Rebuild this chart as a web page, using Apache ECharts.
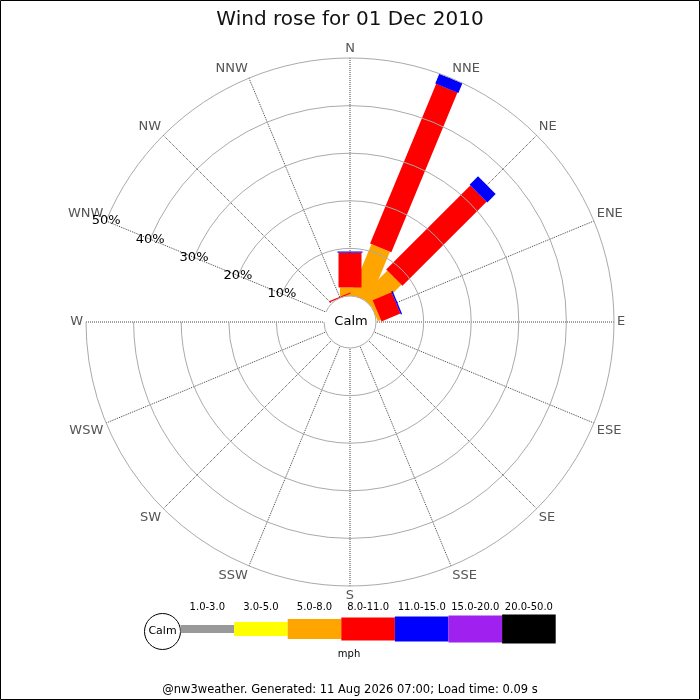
<!DOCTYPE html>
<html>
<head>
<meta charset="utf-8">
<script src="https://cdn.jsdelivr.net/npm/echarts@6/dist/echarts.min.js"></script>
<style>
  html, body { margin: 0; padding: 0; background: #fff; }
  #chart { width: 700px; height: 700px; }
</style>
</head>
<body>
<div id="chart"></div>
<script>
// compass order, clockwise from N
const dirs = ["N", "NNE", "NE", "ENE", "E", "ESE", "SE", "SSE", "S", "SSW", "SW", "WSW", "W", "WNW", "NW", "NNW"];
const bins = ["1.0-3.0", "3.0-5.0", "5.0-8.0", "8.0-11.0", "11.0-15.0", "15.0-20.0", "20.0-50.0"];
const binColors = ["#999999", "#ffff00", "#ffa500", "#ff0000", "#0000ff", "#a020f0", "#000000"];
const binWidths = [8, 14, 20, 23, 25, 27, 29];
const radiusTicks = [0, 10, 20, 30, 40, 50];

// percent of time per direction for each speed bin
const spd1_3   = [0, 0, 0, 0, 0, 0, 0, 0, 0, 0, 0, 0, 0, 0, 0, 0];
const spd3_5   = [0, 0, 0, 0, 0, 0, 0, 0, 0, 0, 0, 0, 0, 0, 0, 0];
const spd5_8   = [1.8, 11.4, 7.7, 0.7, 0, 0, 0, 0, 0, 0, 0, 0, 0, 0, 0, 0];
const spd8_11  = [7.3, 36.3, 25.0, 4.3, 0, 0, 0, 0, 0, 0, 0, 0, 0, 0, 0, 0.25];
const spd11_15 = [0.25, 2.2, 2.5, 0.3, 0, 0, 0, 0, 0, 0, 0, 0, 0, 0, 0, 0];
const spd15_20 = [0, 0, 0, 0, 0, 0, 0, 0, 0, 0, 0, 0, 0, 0, 0, 0];
const spd20_50 = [0, 0, 0, 0, 0, 0, 0, 0, 0, 0, 0, 0, 0, 0, 0, 0];
const binValues = [spd1_3, spd3_5, spd5_8, spd8_11, spd11_15, spd15_20, spd20_50];

const FONT = "DejaVu Sans";

// axis starts at WNW so the % labels sit on that spoke
const axisDirs = dirs.slice(13).concat(dirs.slice(0, 13));
const posOf = i => (i + 3) % 16;

function barRenderer(width, color) {
  return function (params, api) {
    const idx = api.value(0), lo = api.value(1), hi = api.value(2);
    if (!(hi > lo)) return;
    const a = api.coord([lo, idx]), b = api.coord([hi, idx]);
    const c = api.coord([0, idx]), d = api.coord([50, idx]);
    let ux = d[0] - c[0], uy = d[1] - c[1];
    const len = Math.hypot(ux, uy);
    ux /= len; uy /= len;
    const nx = -uy * width / 2, ny = ux * width / 2;
    return {
      type: "polygon",
      shape: { points: [[a[0] + nx, a[1] + ny], [b[0] + nx, b[1] + ny], [b[0] - nx, b[1] - ny], [a[0] - nx, a[1] - ny]] },
      style: { fill: color }
    };
  };
}

const cum = dirs.map(() => 0);
const series = bins.map((name, k) => {
  const data = dirs.map((d, i) => {
    const lo = cum[i];
    cum[i] += binValues[k][i];
    return [posOf(i), lo, cum[i]];
  });
  return {
    name, type: "custom", coordinateSystem: "polar",
    encode: { angle: 0, radius: 2 },
    renderItem: barRenderer(binWidths[k], binColors[k]),
    data, silent: true
  };
});

// legend strip
const legX = 180.5, legStep = 53.6, legY = 629;
const graphic = [
  { type: "rect", shape: { x: 0.5, y: 0.5, width: 699, height: 699 }, style: { fill: "none", stroke: "#000", lineWidth: 1 }, silent: true },
  { type: "text", x: 351, y: 322, style: { text: "Calm", font: "13px " + FONT, fill: "#000", align: "center", verticalAlign: "middle" } },
  { type: "circle", shape: { cx: 162.5, cy: 631.5, r: 18 }, style: { fill: "#fff", stroke: "#000", lineWidth: 1 } },
  { type: "text", x: 162.5, y: 631.5, style: { text: "Calm", font: "11px " + FONT, fill: "#000", align: "center", verticalAlign: "middle" } },
  { type: "text", x: 349, y: 654, style: { text: "mph", font: "10px " + FONT, fill: "#000", align: "center", verticalAlign: "middle" } },
  { type: "text", x: 350, y: 690, style: { text: "@nw3weather. Generated: 11 Aug 2026 07:00; Load time: 0.09 s", font: "11.5px " + FONT, fill: "#000", align: "center", verticalAlign: "middle" } }
];
bins.forEach((b, k) => {
  graphic.push({ type: "rect", shape: { x: legX + k * legStep, y: legY - binWidths[k] / 2, width: legStep, height: binWidths[k] }, style: { fill: binColors[k] } });
  graphic.push({ type: "text", x: legX + (k + 0.5) * legStep, y: 607, style: { text: b, font: "10px " + FONT, fill: "#000", align: "center", verticalAlign: "middle" } });
});

const chart = echarts.init(document.getElementById("chart"));
chart.setOption({
  animation: false,
  backgroundColor: "#fff",
  title: {
    text: "Wind rose for 01 Dec 2010", left: "center", top: 5,
    textStyle: { fontFamily: FONT, fontSize: 20, fontWeight: "normal", color: "#111" }
  },
  polar: { center: [350, 322], radius: [26, 264] },
  angleAxis: {
    type: "category", data: axisDirs, boundaryGap: false,
    startAngle: 157.5, clockwise: true,
    axisLine: { show: false }, axisTick: { show: false },
    axisLabel: { color: "#555", fontFamily: FONT, fontSize: 13, margin: 3 },
    splitLine: { show: true, lineStyle: { color: "#444", type: "dotted", width: 1 } }
  },
  radiusAxis: {
    type: "value", min: radiusTicks[0], max: radiusTicks[radiusTicks.length - 1], interval: 10,
    axisLine: { show: false }, axisTick: { show: false },
    axisLabel: {
      formatter: v => (v ? v + "%" : ""), color: "#000", fontFamily: FONT, fontSize: 13,
      margin: 0, align: "center", verticalAlign: "middle", padding: [4, 0, 0, 0]
    },
    splitLine: { show: true, lineStyle: { color: "#aaa", width: 1 } },
    z: 5
  },
  series,
  graphic
});
</script>
</body>
</html>
